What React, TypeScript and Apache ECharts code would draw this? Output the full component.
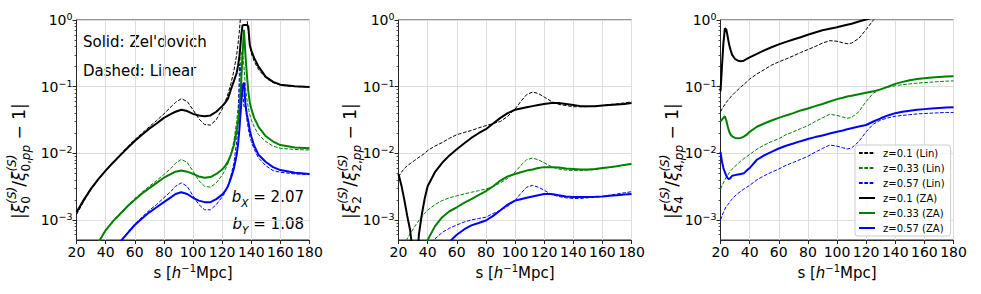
import React, { useEffect, useRef } from "react";
import * as echarts from "echarts";

// ---------- data ----------
const S1 = [20,25,30,35,40,45,50,55,60,65,70,75,80,85,88,92,96,100,104,108,112,116,120,122,124,126,128,130,131,132,133,134,135,136,137,138,139,140,142,145,150,155,160,170,180];
const P1_ZA_01 = [1.3e-3,2.0e-3,2.95e-3,4.1e-3,5.5e-3,7.2e-3,9.3e-3,0.012,0.0153,0.019,0.0234,0.028,0.034,0.039,0.042,0.045,0.043,0.039,0.037,0.036,0.037,0.042,0.051,0.057,0.066,0.09,0.12,0.16,0.21,0.3,0.55,0.83,0.84,0.84,0.84,0.8,0.42,0.35,0.27,0.2,0.14,0.118,0.107,0.101,0.099];
const P1_LIN_01 = [1.2e-3,1.9e-3,2.85e-3,4.0e-3,5.5e-3,7.3e-3,9.6e-3,0.0125,0.016,0.02,0.025,0.031,0.039,0.05,0.058,0.066,0.06,0.045,0.033,0.027,0.0265,0.032,0.046,0.058,0.078,0.11,0.17,0.3,0.45,0.75,1.4,3,4,2,1.1,0.65,0.42,0.32,0.24,0.18,0.135,0.115,0.105,0.1,0.099];
const P1_ZA_033 = [1.2e-4,1.9e-4,3e-4,4.6e-4,7e-4,9.5e-4,1.23e-3,1.6e-3,2.0e-3,2.5e-3,3.0e-3,3.6e-3,4.3e-3,4.9e-3,5.3e-3,5.5e-3,5.3e-3,4.9e-3,4.5e-3,4.3e-3,4.4e-3,4.9e-3,5.7e-3,6.4e-3,7.5e-3,9.5e-3,0.013,0.022,0.03,0.05,0.11,0.3,0.71,0.3,0.15,0.085,0.058,0.047,0.034,0.025,0.018,0.015,0.0133,0.0122,0.0119];
const P1_LIN_033 = [1.2e-4,1.9e-4,3e-4,4.6e-4,7.1e-4,9.7e-4,1.27e-3,1.65e-3,2.1e-3,2.6e-3,3.2e-3,3.9e-3,4.8e-3,6.0e-3,7.1e-3,8.1e-3,7.3e-3,5.4e-3,3.9e-3,3.2e-3,3.1e-3,3.6e-3,4.7e-3,5.6e-3,7e-3,9.5e-3,0.015,0.03,0.05,0.1,0.3,0.35,0.2,0.1,0.065,0.048,0.038,0.032,0.025,0.019,0.015,0.0128,0.0119,0.0114,0.0112];
const P1_ZA_057 = [3.5e-5,6e-5,1e-4,1.6e-4,2.4e-4,3.4e-4,4.7e-4,6.3e-4,8.4e-4,1.05e-3,1.3e-3,1.55e-3,1.85e-3,2.2e-3,2.45e-3,2.6e-3,2.45e-3,2.15e-3,1.95e-3,1.85e-3,1.85e-3,2.05e-3,2.4e-3,2.7e-3,3.2e-3,4.2e-3,5.8e-3,9.5e-3,0.014,0.025,0.05,0.1,0.115,0.055,0.038,0.03,0.022,0.018,0.013,0.0095,7.4e-3,6.2e-3,5.6e-3,5.1e-3,4.9e-3];
const P1_LIN_057 = [3.5e-5,6e-5,1e-4,1.6e-4,2.4e-4,3.5e-4,4.8e-4,6.5e-4,8.7e-4,1.1e-3,1.4e-3,1.7e-3,2.15e-3,2.7e-3,3.2e-3,3.6e-3,3.2e-3,2.3e-3,1.7e-3,1.42e-3,1.42e-3,1.7e-3,2.2e-3,2.6e-3,3.3e-3,4.6e-3,7e-3,0.015,0.03,0.22,0.15,0.09,0.05,0.05,0.032,0.023,0.018,0.015,0.0115,8.5e-3,6.5e-3,5.5e-3,5.2e-3,4.9e-3,4.8e-3];

const S2 = [20,22,24,26,28,29,30,31,32,33,34,35,36,38,40,45,50,55,60,65,70,75,80,85,90,95,100,104,108,112,116,120,125,130,135,140,145,150,155,160,165,170,175,180];
const P2_ZA_01 = [4.9e-3,3.3e-3,2.0e-3,1.15e-3,7e-4,4.5e-4,2e-4,5e-5,5e-5,3e-4,6e-4,8.5e-4,1.2e-3,2.1e-3,3.2e-3,5.2e-3,7.2e-3,9.3e-3,0.0115,0.014,0.017,0.02,0.023,0.028,0.034,0.04,0.045,0.047,0.049,0.051,0.053,0.055,0.057,0.057,0.055,0.053,0.051,0.051,0.051,0.052,0.053,0.054,0.055,0.057];
const P2_LIN_01 = [4.4e-3,5.2e-3,5.9e-3,6.5e-3,7e-3,7.25e-3,7.5e-3,7.8e-3,8.1e-3,8.4e-3,8.7e-3,9.0e-3,9.3e-3,0.01,0.011,0.0128,0.0145,0.0168,0.019,0.0205,0.022,0.024,0.026,0.028,0.03,0.036,0.046,0.06,0.076,0.083,0.079,0.07,0.06,0.054,0.052,0.05,0.05,0.05,0.051,0.052,0.054,0.055,0.057,0.059];
const P2_ZA_033 = [5e-5,6e-5,7e-5,8e-5,1e-4,1.1e-4,1.2e-4,1.4e-4,1.6e-4,1.8e-4,2e-4,2.3e-4,2.7e-4,3.6e-4,5e-4,8e-4,1.1e-3,1.35e-3,1.55e-3,1.8e-3,2.05e-3,2.35e-3,2.7e-3,3.2e-3,3.9e-3,4.5e-3,4.9e-3,5.2e-3,5.5e-3,5.7e-3,6e-3,6.2e-3,6.2e-3,6.1e-3,5.9e-3,5.8e-3,5.7e-3,5.7e-3,5.8e-3,6e-3,6.2e-3,6.4e-3,6.7e-3,6.9e-3];
const P2_LIN_033 = [3e-4,3.6e-4,4.3e-4,5.2e-4,6.2e-4,6.7e-4,7.3e-4,7.9e-4,8.5e-4,9.1e-4,9.8e-4,1.05e-3,1.12e-3,1.26e-3,1.4e-3,1.7e-3,1.95e-3,2.15e-3,2.3e-3,2.45e-3,2.6e-3,2.75e-3,2.9e-3,3.2e-3,3.6e-3,4.2e-3,5.2e-3,6.6e-3,8e-3,8.5e-3,8e-3,7.2e-3,6.3e-3,5.8e-3,5.6e-3,5.5e-3,5.5e-3,5.6e-3,5.7e-3,5.9e-3,6.1e-3,6.4e-3,6.7e-3,7e-3];
const P2_ZA_057 = [2e-5,2.4e-5,2.8e-5,3.2e-5,3.8e-5,4e-5,4.3e-5,5e-5,5.5e-5,6e-5,6.8e-5,7.5e-5,8.5e-5,1.1e-4,1.5e-4,2.5e-4,3.5e-4,4.7e-4,6e-4,7.2e-4,8.3e-4,9e-4,9.8e-4,1.15e-3,1.4e-3,1.7e-3,1.95e-3,2.05e-3,2.15e-3,2.25e-3,2.35e-3,2.45e-3,2.45e-3,2.35e-3,2.25e-3,2.2e-3,2.2e-3,2.2e-3,2.22e-3,2.25e-3,2.3e-3,2.35e-3,2.4e-3,2.45e-3];
const P2_LIN_057 = [1.1e-4,1.3e-4,1.5e-4,1.8e-4,2.1e-4,2.2e-4,2.4e-4,2.55e-4,2.7e-4,2.85e-4,3e-4,3.2e-4,3.4e-4,3.9e-4,4.3e-4,5.2e-4,6.5e-4,7.5e-4,8.4e-4,9.3e-4,1e-3,1.05e-3,1.1e-3,1.25e-3,1.4e-3,1.6e-3,1.95e-3,2.5e-3,3.1e-3,3.3e-3,3.1e-3,2.8e-3,2.4e-3,2.25e-3,2.15e-3,2.1e-3,2.1e-3,2.15e-3,2.2e-3,2.25e-3,2.35e-3,2.45e-3,2.55e-3,2.65e-3];

const S3 = [20,21,22,23,24,25,26,27,28,30,32,34,36,38,40,45,50,55,60,65,70,75,80,85,90,95,100,104,107,110,115,120,125,130,135,140,145,150,155,160,165,170,175,180];
const P3_ZA_01 = [0.085,0.2,0.45,0.75,0.72,0.55,0.42,0.35,0.3,0.26,0.245,0.24,0.245,0.26,0.275,0.31,0.35,0.39,0.43,0.47,0.51,0.55,0.6,0.65,0.7,0.74,0.78,0.82,0.85,0.88,0.95,1.02,1.1,1.18,1.25,1.33,1.4,1.48,1.55,1.62,1.7,1.78,1.85,1.92];
const P3_LIN_01 = [0.042,0.046,0.05,0.054,0.058,0.062,0.066,0.07,0.074,0.082,0.09,0.099,0.108,0.118,0.13,0.155,0.18,0.21,0.235,0.26,0.29,0.325,0.36,0.4,0.45,0.49,0.48,0.455,0.44,0.45,0.53,0.72,1.0,1.3,1.5,1.6,1.7,1.75,1.8,1.85,1.9,1.95,2,2];
const P3_ZA_033 = [0.03,0.032,0.034,0.036,0.031,0.025,0.021,0.019,0.018,0.017,0.0168,0.017,0.0178,0.019,0.021,0.025,0.028,0.031,0.034,0.037,0.04,0.044,0.047,0.051,0.055,0.06,0.065,0.068,0.071,0.073,0.077,0.081,0.085,0.091,0.1,0.11,0.118,0.125,0.13,0.134,0.137,0.14,0.142,0.143];
const P3_LIN_033 = [2.9e-3,3.25e-3,3.6e-3,4e-3,4.4e-3,4.7e-3,5.1e-3,5.45e-3,5.8e-3,6.4e-3,7e-3,7.7e-3,8.3e-3,8.9e-3,9.6e-3,0.0115,0.0133,0.015,0.0165,0.019,0.021,0.0235,0.026,0.03,0.034,0.0385,0.037,0.035,0.0335,0.0345,0.042,0.06,0.08,0.092,0.098,0.103,0.107,0.11,0.113,0.115,0.117,0.119,0.121,0.122];
const P3_ZA_057 = [0.0105,7.5e-3,6e-3,5.2e-3,4.6e-3,4.2e-3,4.1e-3,4.3e-3,4.6e-3,4.7e-3,4.8e-3,4.9e-3,5e-3,5.5e-3,6e-3,8e-3,9.3e-3,0.0105,0.0118,0.013,0.014,0.0152,0.0164,0.0175,0.0185,0.0198,0.021,0.022,0.023,0.0238,0.0252,0.0266,0.03,0.0335,0.037,0.04,0.042,0.0435,0.045,0.046,0.047,0.048,0.0485,0.049];
const P3_LIN_057 = [1e-3,1.15e-3,1.3e-3,1.45e-3,1.6e-3,1.7e-3,1.8e-3,1.95e-3,2.05e-3,2.3e-3,2.5e-3,2.7e-3,2.9e-3,3.1e-3,3.3e-3,4e-3,4.6e-3,5.2e-3,5.8e-3,6.6e-3,7.3e-3,8.1e-3,9e-3,0.0104,0.0118,0.0133,0.0128,0.0121,0.0116,0.012,0.015,0.021,0.0275,0.0315,0.034,0.036,0.037,0.038,0.039,0.0395,0.04,0.0405,0.041,0.041];

const Y_MAJOR = [0.001, 0.01, 0.1, 1];
const Y_MINOR = [6e-4,7e-4,8e-4,9e-4,2e-3,3e-3,4e-3,5e-3,6e-3,7e-3,8e-3,9e-3,0.02,0.03,0.04,0.05,0.06,0.07,0.08,0.09,0.2,0.3,0.4,0.5,0.6,0.7,0.8,0.9];
const NAMES = ["z=0.1 (Lin)", "z=0.33 (Lin)", "z=0.57 (Lin)", "z=0.1 (ZA)", "z=0.33 (ZA)", "z=0.57 (ZA)"];
const ELL = ["0", "2", "4"];

const PANELS = [
  { s: S1, lin: [P1_LIN_01, P1_LIN_033, P1_LIN_057], za: [P1_ZA_01, P1_ZA_033, P1_ZA_057] },
  { s: S2, lin: [P2_LIN_01, P2_LIN_033, P2_LIN_057], za: [P2_ZA_01, P2_ZA_033, P2_ZA_057] },
  { s: S3, lin: [P3_LIN_01, P3_LIN_033, P3_LIN_057], za: [P3_ZA_01, P3_ZA_033, P3_ZA_057] },
];

// ---------- styling ----------
const FONT = "DejaVu Sans";
const COLORS = ["#000000", "#008000", "#0000ff"];
const LEFTS = [76.5, 398.5, 720.5];
const YTITLE_X = [19, 350, 672];
const YTITLE_BOTTOM = 219;
const TOP = 20;
const W = 233;
const H = 220;
const FRAME = "#262626";
const GRIDC = "#dedede";

const SUP = (e: number) => (e < 0 ? "−" + -e : String(e));

const TF = 17; // y title base font
const TS = 12; // y title script font
const yTitleRich = {
  n: { fontSize: TF, fontFamily: FONT, color: "#000", lineHeight: 26, verticalAlign: "middle" },
  i: { fontSize: TF, fontFamily: FONT, fontStyle: "italic", color: "#000", lineHeight: 26, verticalAlign: "middle" },
  sp: { fontSize: TS, fontFamily: FONT, fontStyle: "italic", color: "#000", lineHeight: 15, verticalAlign: "top" },
  sp0: { fontSize: TS, fontFamily: FONT, fontStyle: "italic", color: "#000", lineHeight: 15, verticalAlign: "top", width: 0.01 },
  sb: { fontSize: TS, fontFamily: FONT, color: "#000", lineHeight: 15, verticalAlign: "bottom" },
  sbi: { fontSize: TS, fontFamily: FONT, fontStyle: "italic", color: "#000", lineHeight: 15, verticalAlign: "bottom" },
  sb0: { fontSize: TS, fontFamily: FONT, color: "#000", lineHeight: 15, verticalAlign: "bottom", width: 0.01 },
};
const yTitle = (l: string) =>
  `{n||}{i|ξ}{sb0|${l}}{sp|(S)}{n|/}{i|ξ}{sp0|(S)}{sb|${l},}{sbi|pp}{n| − 1|}`;

const xTitleRich = {
  n: { fontSize: 15, fontFamily: FONT, color: "#000", lineHeight: 19, verticalAlign: "middle" },
  i: { fontSize: 15, fontFamily: FONT, fontStyle: "italic", color: "#000", lineHeight: 19, verticalAlign: "middle" },
  s: { fontSize: 10, fontFamily: FONT, color: "#000", lineHeight: 11, verticalAlign: "top" },
};

const tickRich = {
  b: { fontSize: 14, fontFamily: FONT, color: "#000", lineHeight: 17, verticalAlign: "middle" },
  s: { fontSize: 9.5, fontFamily: FONT, color: "#000", lineHeight: 10, verticalAlign: "top" },
};

function buildOption() {
  const grid: any[] = [];
  const xAxis: any[] = [];
  const yAxis: any[] = [];
  const series: any[] = [];
  const graphic: any[] = [];
  PANELS.forEach((p, g) => {
    grid.push({ left: LEFTS[g], top: TOP, width: W, height: H, show: true, borderColor: FRAME, borderWidth: 1, containLabel: false });
    xAxis.push({
      type: "value", gridIndex: g, min: 20, max: 180, interval: 20,
      axisLine: { show: true, onZero: false, lineStyle: { color: FRAME, width: 1 } },
      axisTick: { show: true, length: 4, inside: false, lineStyle: { color: FRAME, width: 1 } },
      axisLabel: { show: true, margin: 5, fontSize: 14, fontFamily: FONT, color: "#000", showMinLabel: true, showMaxLabel: true },
      splitLine: { show: true, lineStyle: { color: GRIDC, width: 1 } },
      name: "{n|s [}{i|h}{s|−1}{n|Mpc]}", nameLocation: "middle", nameGap: 15,
      nameTextStyle: { rich: xTitleRich },
    });
    yAxis.push({
      type: "log", logBase: 10, gridIndex: g, min: 0.0005, max: 1,
      axisLine: { show: true, onZero: false, lineStyle: { color: FRAME, width: 1 } },
      axisTick: { show: true, length: 4, inside: false, customValues: Y_MAJOR, lineStyle: { color: FRAME, width: 1 } },
      axisLabel: {
        show: true, margin: 4, customValues: Y_MAJOR,
        formatter: (v: number) => `{b|10}{s|${SUP(Math.round(Math.log10(v)))}}`,
        rich: tickRich,
      },
      splitLine: { show: true, lineStyle: { color: GRIDC, width: 1 } },
    });
    yAxis.push({
      type: "log", logBase: 10, gridIndex: g, min: 0.0005, max: 1, position: "left",
      axisLine: { show: false }, axisLabel: { show: false }, splitLine: { show: false },
      axisTick: { show: true, length: 2, inside: false, customValues: Y_MINOR, lineStyle: { color: FRAME, width: 0.8 } },
    });
    graphic.push({
      type: "text", x: YTITLE_X[g], y: YTITLE_BOTTOM, rotation: Math.PI / 2, silent: true,
      style: { text: yTitle(ELL[g]), rich: yTitleRich, align: "left", verticalAlign: "middle" },
    });
    const add = (name: string, vals: number[], color: string, dashed: boolean) =>
      series.push({
        name, type: "line", xAxisIndex: g, yAxisIndex: g * 2,
        data: p.s.map((x, i) => [x, vals[i]]),
        symbol: "none", showSymbol: false, clip: true, silent: true,
        lineStyle: { color, width: dashed ? 1 : 2, type: dashed ? [3.7, 1.6] : "solid" },
        itemStyle: { color },
        z: dashed ? 2 : 3,
      });
    p.lin.forEach((v, k) => add(NAMES[k], v, COLORS[k], true));
    p.za.forEach((v, k) => add(NAMES[3 + k], v, COLORS[k], false));
  });

  const bRich = {
    i: { fontSize: 15, fontFamily: FONT, fontStyle: "italic", color: "#000", lineHeight: 22, verticalAlign: "middle" },
    sb: { fontSize: 10.5, fontFamily: FONT, fontStyle: "italic", color: "#000", lineHeight: 14, verticalAlign: "bottom" },
    n: { fontSize: 15, fontFamily: FONT, color: "#000", lineHeight: 22, verticalAlign: "middle" },
  };
  graphic.push(
    { type: "text", x: 83, y: 42, silent: true, style: { text: "Solid: Zel'dovich", fontSize: 15, fontFamily: FONT, fill: "#000", align: "left", verticalAlign: "middle" } },
    { type: "text", x: 83, y: 71, silent: true, style: { text: "Dashed: Linear", fontSize: 15, fontFamily: FONT, fill: "#000", align: "left", verticalAlign: "middle" } },
    { type: "text", x: 304, y: 197, silent: true, style: { text: "{i|b}{sb|X}{n| = 2.07}", rich: bRich, align: "right", verticalAlign: "middle" } },
    { type: "text", x: 304, y: 224, silent: true, style: { text: "{i|b}{sb|Y}{n| = 1.08}", rich: bRich, align: "right", verticalAlign: "middle" } },
  );

  return {
    animation: false,
    backgroundColor: "#ffffff",
    grid, xAxis, yAxis, series, graphic,
    legend: {
      data: NAMES, orient: "vertical", left: 855, top: 145,
      itemWidth: 16, itemHeight: 10, itemGap: 5,
      padding: [3, 6, 3, 3],
      backgroundColor: "rgba(255,255,255,0.85)", borderColor: "#cccccc", borderWidth: 1, borderRadius: 3,
      itemStyle: { opacity: 0, borderWidth: 0 },
      textStyle: { fontSize: 10, fontFamily: FONT, color: "#000", padding: [0, 0, 0, 3] },
      selectedMode: false,
    },
  };
}

export default function App() {
  const ref = useRef<HTMLDivElement>(null);
  useEffect(() => {
    if (!ref.current) return;
    const chart = echarts.init(ref.current, undefined, { renderer: "svg" });
    chart.setOption(buildOption() as any);
    return () => chart.dispose();
  }, []);
  return <div ref={ref} style={{ position: "fixed", left: 0, top: 0, width: 981, height: 294 }} />;
}
